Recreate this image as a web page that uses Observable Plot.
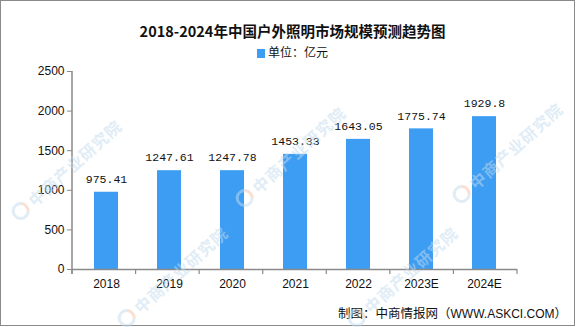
<!DOCTYPE html>
<html>
<head>
<meta charset="utf-8">
<script src="https://cdn.jsdelivr.net/npm/d3@7"></script>
<script src="https://cdn.jsdelivr.net/npm/@observablehq/plot@0.6"></script>
<style>
  html, body { margin: 0; padding: 0; background: #fff; }
  #frame {
    position: relative; width: 585px; height: 327px; overflow: hidden;
    font-family: "Noto Sans CJK SC", "Liberation Sans", sans-serif;
  }
  #border {
    position: absolute; left: 0; top: 0; width: 573px; height: 324px;
    border: 1.5px solid #8a8a8a; box-sizing: content-box; pointer-events: none;
  }
  #title {
    position: absolute; top: 21px; left: 0; width: 585px; text-align: center;
    font-size: 14.5px; font-weight: bold; color: #111; line-height: 20px;
  }
  #legend {
    position: absolute; top: 43px; left: 0; width: 585px; text-align: center;
    font-size: 12px; color: #111; line-height: 18px;
  }
  #legend .sw {
    display: inline-block; width: 8px; height: 9px; background: #3d9df2;
    vertical-align: -1px; margin-right: 3px;
  }
  #chart { position: absolute; left: 0; top: 60px; }
  #caption {
    position: absolute; top: 304px; left: 338px; font-size: 12.5px; color: #111;
    white-space: nowrap; line-height: 18px;
  }
  #caption .en { font-family: "Liberation Sans", sans-serif; font-size: 12px; }
  .wm {
    position: absolute; font-size: 16px; font-weight: bold; color: #c3dcef;
    opacity: 0.5; transform: rotate(-42deg); transform-origin: left center;
    white-space: nowrap; pointer-events: none; letter-spacing: 1px;
  }
  .wm .logo {
    display: inline-block; width: 12px; height: 12px; border-radius: 50%;
    border: 3px solid #c3dcef; border-right-color: #f4c2a8; margin-right: 4px;
    vertical-align: -2px;
  }
</style>
</head>
<body>
<div id="frame">
  <div id="title">2018-2024年中国户外照明市场规模预测趋势图</div>
  <div id="legend"><span class="sw"></span>单位：亿元</div>
  <div id="chart"></div>
  <div id="caption">制图：中商情报网（<span class="en">WWW.ASKCI.COM</span>）</div>
  <div id="border"></div>
</div>
<script>
// Outdoor lighting market size, 100 million yuan (E = estimate)
const years = ["2018", "2019", "2020", "2021", "2022", "2023E", "2024E"];
const marketSize = [975.41, 1247.61, 1247.78, 1453.33, 1643.05, 1775.74, 1929.8];
const valueLabels = ["975.41", "1247.61", "1247.78", "1453.33", "1643.05", "1775.74", "1929.8"];
const yTicks = [0, 500, 1000, 1500, 2000, 2500];

const rows = years.map((year, i) => ({year, value: marketSize[i], label: valueLabels[i]}));

const barColor = "#3d9df2";
const axisColor = "#8a8a8a";

const plot = Plot.plot({
  width: 585,
  height: 240,
  marginTop: 11,
  marginBottom: 31,
  marginLeft: 72,
  marginRight: 68,
  style: {fontFamily: "'Liberation Sans', sans-serif", fontSize: "12px", color: "#111", background: "transparent"},
  x: {domain: years, paddingInner: 0.62, paddingOuter: 0.31, align: 0.5, label: null},
  y: {domain: [0, 2500], label: null},
  marks: [
    Plot.barY(rows, {x: "year", y: "value", fill: barColor}),
    Plot.text(rows, {
      x: "year", y: "value", text: "label", dy: -13,
      fontFamily: "'Liberation Mono', monospace", fontSize: 11.5, fill: "#111"
    }),
    Plot.axisY({
      ticks: yTicks, tickFormat: d3.format("d"), tickSize: 5, tickPadding: 3,
      stroke: axisColor, fontSize: 12, fill: "#111", label: null
    }),
    Plot.axisX({tickSize: 0, tickPadding: 10, fontSize: 12, fill: "#111", label: null}),
    Plot.ruleY([0], {stroke: axisColor, strokeWidth: 1.5})
  ]
});
document.getElementById("chart").appendChild(plot);

// Vertical y axis line and category boundary ticks, placed from the plot's own scales
const sx = plot.scale("x");
const sy = plot.scale("y");
const svg = d3.select(plot);
const x0 = sx.range[0];
const x1 = sx.range[1];
const yBase = sy.apply(0);
const yTop = sy.apply(2500);
svg.append("line")
  .attr("x1", x0).attr("x2", x0).attr("y1", yTop).attr("y2", yBase + 5)
  .attr("stroke", axisColor).attr("stroke-width", 1.5);
const step = (x1 - x0) / years.length;
d3.range(years.length + 1).forEach(i => {
  const x = x0 + i * step;
  svg.append("line")
    .attr("x1", x).attr("x2", x).attr("y1", yBase).attr("y2", yBase + 5)
    .attr("stroke", axisColor).attr("stroke-width", 1.2);
});

// Diagonal publisher watermarks
const wmSpots = [[14, 205], [238, 192], [455, 188], [120, 312], [350, 312]];
const frame = document.getElementById("frame");
wmSpots.forEach(([left, top]) => {
  const el = document.createElement("div");
  el.className = "wm";
  el.style.left = left + "px";
  el.style.top = top + "px";
  el.innerHTML = '<span class="logo"></span>中商产业研究院';
  frame.appendChild(el);
});
</script>
</body>
</html>
